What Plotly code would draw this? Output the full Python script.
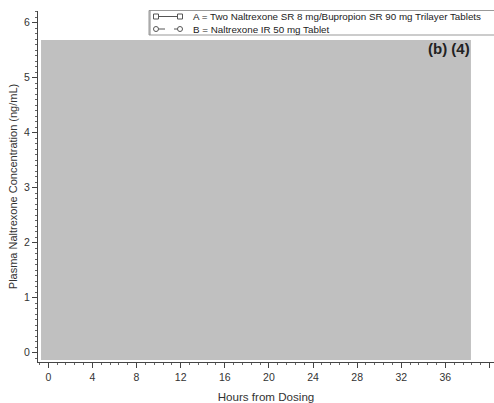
import plotly.graph_objects as go

# Series (concentration profiles are covered by the redaction box)
series_names = [
    "A = Two Naltrexone SR 8 mg/Bupropion SR 90 mg Trilayer Tablets",
    "B = Naltrexone IR 50 mg Tablet",
]
series_hours = [[], []]
series_conc = [[], []]

x_ticks = [0, 4, 8, 12, 16, 20, 24, 28, 32, 36, 40]
y_ticks = [0, 1, 2, 3, 4, 5, 6]
redaction_label = "(b) (4)"

W, H = 494, 403
ML, MR, MT, MB = 38, 0, 11, 41
PW, PH = W - ML - MR, H - MT - MB


def px(x):
    return (x - ML) / PW


def py(y):
    return (H - MB - y) / PH


FONT = "Liberation Sans, Arial, sans-serif"
fig = go.Figure()

symbols = ["square-open", "circle-open"]
dashes = ["solid", "dash"]
for name, xs, ys, sym, dash in zip(series_names, series_hours, series_conc, symbols, dashes):
    fig.add_trace(go.Scatter(
        x=xs, y=ys, name=name, mode="lines+markers",
        line=dict(color="#444", width=1, dash=dash),
        marker=dict(symbol=sym, size=5, color="#444"),
        showlegend=False,
    ))

shapes = []
annotations = []

# redaction box over the plotted curves
shapes.append(dict(type="rect", xref="x", yref="y", x0=-0.66, x1=38.32, y0=-0.135, y1=5.685,
                   fillcolor="#c0c0c0", line=dict(width=0), layer="above"))
annotations.append(dict(text="<b>" + redaction_label + "</b>", xref="paper", yref="paper",
                        x=px(471.5), y=py(49), xanchor="right", yanchor="middle", showarrow=False,
                        font=dict(family=FONT, size=15, color="#222")))

# legend box
shapes.append(dict(type="rect", xref="paper", yref="paper", x0=px(149), x1=px(500), y0=py(35), y1=py(10.5),
                   fillcolor="white", line=dict(color="#999", width=1), layer="above"))
shapes.append(dict(type="line", xref="paper", yref="paper", x0=px(150), x1=px(150), y0=py(35), y1=py(10.5),
                   line=dict(color="#888", width=1), layer="above"))
rows_y = [16.5, 29]
for i, (name, ry) in enumerate(zip(series_names, rows_y)):
    shapes.append(dict(type="line", xref="paper", yref="paper", x0=px(156), x1=px(180), y0=py(ry), y1=py(ry),
                       line=dict(color="#555", width=1, dash="solid" if i == 0 else "dash"), layer="above"))
    for cx in (156, 180):
        shapes.append(dict(type="rect" if i == 0 else "circle", xref="paper", yref="paper",
                           x0=px(cx - 2.5), x1=px(cx + 2.5), y0=py(ry + 2.5), y1=py(ry - 2.5),
                           fillcolor="white", line=dict(color="#555", width=1), layer="above"))
    annotations.append(dict(text=name, xref="paper", yref="paper", x=px(191), y=py(ry),
                            xanchor="left", yanchor="middle", showarrow=False,
                            font=dict(family=FONT, size=9.8, color="#222")))

fig.update_layout(
    width=W, height=H,
    margin=dict(l=ML, r=MR, t=MT, b=MB, pad=0),
    paper_bgcolor="white", plot_bgcolor="white",
    font=dict(family=FONT, size=10, color="#333"),
    shapes=shapes, annotations=annotations,
    showlegend=False,
)
fig.update_xaxes(
    range=[-0.934, 40.41], tickvals=x_ticks, ticktext=[str(v) for v in x_ticks],
    ticks="outside", ticklen=5, tickcolor="#444", showgrid=False, zeroline=False,
    showline=True, linecolor="#444", linewidth=1,
    minor=dict(tick0=0, dtick=0.8, ticks="outside", ticklen=2, tickcolor="#666", showgrid=False),
    title=dict(text="Hours from Dosing", font=dict(size=11.6, color="#333"), standoff=11),
    tickfont=dict(size=10.5, color="#333"),
)
fig.update_yaxes(
    range=[-0.17, 6.21], tickvals=y_ticks, ticktext=[str(v) for v in y_ticks],
    ticks="outside", ticklen=5, tickcolor="#444", showgrid=False, zeroline=False,
    showline=True, linecolor="#444", linewidth=1,
    minor=dict(tick0=0, dtick=0.1, ticks="outside", ticklen=2, tickcolor="#666", showgrid=False),
    title=dict(text="Plasma Naltrexone Concentration (ng/mL)", font=dict(size=11, color="#333"), standoff=4),
    tickfont=dict(size=10.5, color="#333"),
)

fig.write_html("out.html")
